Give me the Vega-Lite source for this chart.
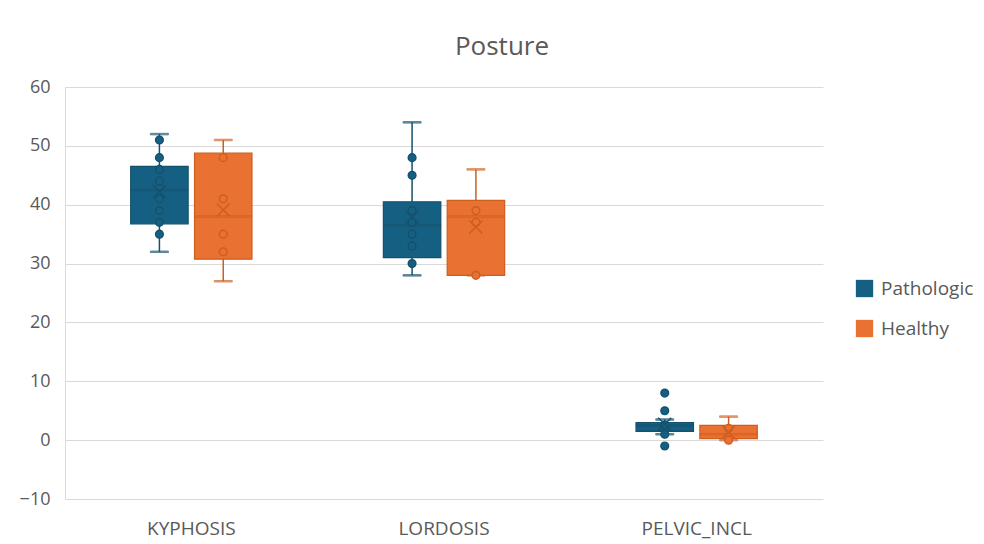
{
  "$schema": "https://vega.github.io/schema/vega-lite/v6.json",
  "width": 758,
  "height": 412,
  "autosize": {"type": "none"},
  "padding": {"left": 65, "top": 87, "right": 161, "bottom": 45},
  "background": "#ffffff",
  "title": {
    "text": "Posture",
    "fontSize": 26,
    "font": "Open Sans",
    "fontWeight": "normal",
    "color": "#595959",
    "anchor": "middle",
    "dx": 58,
    "offset": 18
  },
  "config": {
    "font": "Open Sans",
    "view": {"stroke": null},
    "axis": {
      "labelFont": "Open Sans",
      "labelColor": "#595959",
      "ticks": false,
      "title": null,
      "gridColor": "#D9D9D9",
      "gridWidth": 1,
      "domainColor": "#D9D9D9"
    }
  },
  "datasets": {
    "boxes": [
      {"measure": "KYPHOSIS", "group": "Pathologic", "lower": 32, "q1": 36.75, "median": 42.5, "q3": 46.5, "upper": 52, "mean": 42.2},
      {"measure": "KYPHOSIS", "group": "Healthy", "lower": 27, "q1": 30.75, "median": 38, "q3": 48.75, "upper": 51, "mean": 39.1},
      {"measure": "LORDOSIS", "group": "Pathologic", "lower": 28, "q1": 31, "median": 36.5, "q3": 40.5, "upper": 54, "mean": 37.9},
      {"measure": "LORDOSIS", "group": "Healthy", "lower": 28, "q1": 28, "median": 38, "q3": 40.75, "upper": 46, "mean": 36.2},
      {"measure": "PELVIC_INCL", "group": "Pathologic", "lower": 1, "q1": 1.5, "median": 2.5, "q3": 3, "upper": 3.5, "mean": 2.7},
      {"measure": "PELVIC_INCL", "group": "Healthy", "lower": 0, "q1": 0.25, "median": 1, "q3": 2.5, "upper": 4, "mean": 1.4}
    ],
    "points": [
      {"measure": "KYPHOSIS", "group": "Pathologic", "value": 51},
      {"measure": "KYPHOSIS", "group": "Pathologic", "value": 48},
      {"measure": "KYPHOSIS", "group": "Pathologic", "value": 46},
      {"measure": "KYPHOSIS", "group": "Pathologic", "value": 44},
      {"measure": "KYPHOSIS", "group": "Pathologic", "value": 41},
      {"measure": "KYPHOSIS", "group": "Pathologic", "value": 39},
      {"measure": "KYPHOSIS", "group": "Pathologic", "value": 37},
      {"measure": "KYPHOSIS", "group": "Pathologic", "value": 35},
      {"measure": "KYPHOSIS", "group": "Healthy", "value": 48},
      {"measure": "KYPHOSIS", "group": "Healthy", "value": 41},
      {"measure": "KYPHOSIS", "group": "Healthy", "value": 35},
      {"measure": "KYPHOSIS", "group": "Healthy", "value": 32},
      {"measure": "LORDOSIS", "group": "Pathologic", "value": 48},
      {"measure": "LORDOSIS", "group": "Pathologic", "value": 45},
      {"measure": "LORDOSIS", "group": "Pathologic", "value": 39},
      {"measure": "LORDOSIS", "group": "Pathologic", "value": 37},
      {"measure": "LORDOSIS", "group": "Pathologic", "value": 35},
      {"measure": "LORDOSIS", "group": "Pathologic", "value": 33},
      {"measure": "LORDOSIS", "group": "Pathologic", "value": 30},
      {"measure": "LORDOSIS", "group": "Healthy", "value": 39},
      {"measure": "LORDOSIS", "group": "Healthy", "value": 37},
      {"measure": "LORDOSIS", "group": "Healthy", "value": 28},
      {"measure": "PELVIC_INCL", "group": "Pathologic", "value": 8},
      {"measure": "PELVIC_INCL", "group": "Pathologic", "value": 5},
      {"measure": "PELVIC_INCL", "group": "Pathologic", "value": 2.5},
      {"measure": "PELVIC_INCL", "group": "Pathologic", "value": 1},
      {"measure": "PELVIC_INCL", "group": "Pathologic", "value": -1},
      {"measure": "PELVIC_INCL", "group": "Healthy", "value": 2},
      {"measure": "PELVIC_INCL", "group": "Healthy", "value": 0}
    ]
  },
  "encoding": {
    "x": {
      "field": "measure",
      "type": "nominal",
      "sort": ["KYPHOSIS", "LORDOSIS", "PELVIC_INCL"],
      "scale": {"paddingInner": 0.52, "paddingOuter": 0.26},
      "axis": {"labelAngle": 0, "labelPadding": 20, "labelFontSize": 19, "domain": false, "grid": false}
    },
    "xOffset": {
      "field": "group",
      "type": "nominal",
      "sort": ["Pathologic", "Healthy"],
      "scale": {"paddingInner": 0.1, "paddingOuter": 0}
    },
    "stroke": {
      "condition": {"test": "datum.group === 'Pathologic'", "value": "#15506D"},
      "value": "#CC5E20"
    }
  },
  "layer": [
    {
      "data": {"name": "boxes"},
      "mark": {"type": "rule", "strokeWidth": 1.5},
      "encoding": {
        "y": {
          "field": "lower",
          "type": "quantitative",
          "scale": {"domain": [-10, 60], "nice": false, "zero": false},
          "axis": {"values": [-10, 0, 10, 20, 30, 40, 50, 60], "labelPadding": 15, "labelFontSize": 18, "domain": true, "grid": true}
        },
        "y2": {"field": "upper"}
      }
    },
    {
      "data": {"name": "boxes"},
      "mark": {"type": "tick", "size": 18, "thickness": 1.5},
      "encoding": {
        "y": {"field": "lower", "type": "quantitative"},
        "color": {
          "field": "group",
          "type": "nominal",
          "scale": {"domain": ["Pathologic", "Healthy"], "range": ["#156082", "#E97132"]},
          "legend": {
            "title": null,
            "orient": "none",
            "legendX": 790,
            "legendY": 192,
            "symbolType": "square",
            "symbolSize": 300,
            "symbolOpacity": 1,
            "symbolStrokeWidth": 0,
            "labelFontSize": 19,
            "labelColor": "#595959",
            "labelFont": "Open Sans",
            "labelOffset": 7,
            "rowPadding": 20,
            "encode": {
              "symbols": {
                "update": {
                  "opacity": {"value": 1},
                  "strokeWidth": {"value": 0}
                }
              }
            }
          }
        }
      }
    },
    {
      "data": {"name": "boxes"},
      "mark": {"type": "tick", "size": 18, "thickness": 1.5},
      "encoding": {
        "y": {"field": "upper", "type": "quantitative"},
        "color": {"field": "group", "type": "nominal"}
      }
    },
    {
      "data": {"name": "boxes"},
      "mark": {"type": "bar", "strokeWidth": 1.2},
      "encoding": {
        "y": {"field": "q1", "type": "quantitative"},
        "y2": {"field": "q3"},
        "color": {"field": "group", "type": "nominal"}
      }
    },
    {
      "data": {"name": "boxes"},
      "mark": {"type": "tick", "size": 57, "thickness": 1.5},
      "encoding": {
        "y": {"field": "median", "type": "quantitative"},
        "color": {"field": "group", "type": "nominal"}
      }
    },
    {
      "data": {"name": "points"},
      "mark": {"type": "point", "shape": "circle", "filled": true, "size": 60, "strokeWidth": 1.4, "opacity": 1},
      "encoding": {
        "y": {"field": "value", "type": "quantitative"},
        "color": {"field": "group", "type": "nominal"}
      }
    },
    {
      "data": {"name": "boxes"},
      "mark": {"type": "point", "shape": "M-1,-1L1,1M-1,1L1,-1", "filled": false, "size": 170, "strokeWidth": 1.4, "opacity": 1},
      "encoding": {
        "y": {"field": "mean", "type": "quantitative"}
      }
    }
  ]
}
